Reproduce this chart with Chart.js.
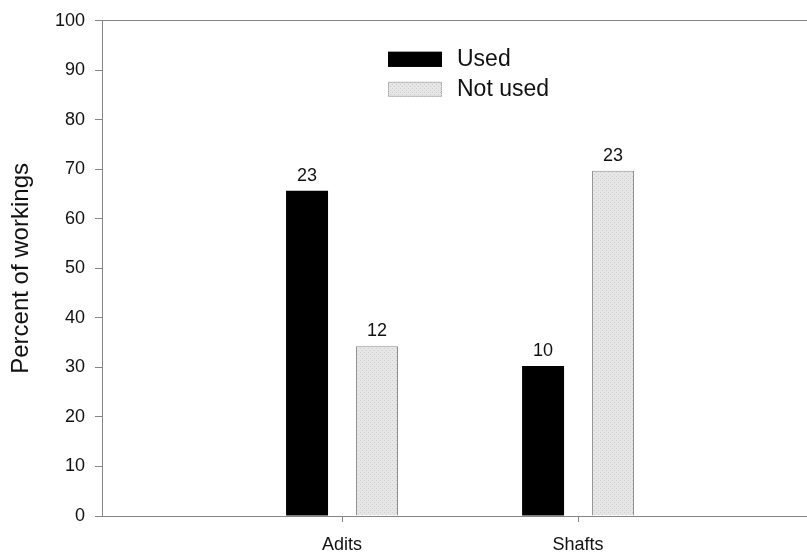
<!DOCTYPE html>
<html>
<head>
<meta charset="utf-8">
<script src="https://cdn.jsdelivr.net/npm/chart.js@4/dist/chart.umd.min.js"></script>
<style>
body{margin:0;background:#fff;}
</style>
</head>
<body>
<canvas id="chart" width="807" height="558"></canvas>
<script>
// values
const categories = ["Adits", "Shafts"];
const xPos = [1, 2];
const usedPct = [65.7, 30.3];
const notUsedPct = [34.3, 69.7];
const usedCount = [23, 10];
const notUsedCount = [12, 23];
const yTicks = [0, 10, 20, 30, 40, 50, 60, 70, 80, 90, 100];

const FONT = "'Liberation Sans', Arial, sans-serif";
const AXIS = "#858585";

// light stipple fill for the "Not used" bars
function stipple(){
  let c = document.createElement("canvas");
  c.width = 4; c.height = 4;
  let g = c.getContext("2d");
  g.fillStyle = "#e6e6e6";
  g.fillRect(0,0,4,4);
  g.fillStyle = "#cfcfcf";
  g.fillRect(0,0,1,1);
  g.fillRect(2,2,1,1);
  return g.createPattern(c, "repeat");
}
const notUsedFill = stipple();

const counts = [usedCount, notUsedCount];

const barLabels = {
  id: "barLabels",
  afterDatasetsDraw(chart){
    const ctx = chart.ctx;
    ctx.save();
    ctx.font = "18px " + FONT;
    ctx.fillStyle = "#111";
    ctx.textAlign = "center";
    ctx.textBaseline = "alphabetic";
    chart.data.datasets.forEach((ds, di) => {
      chart.getDatasetMeta(di).data.forEach((bar, i) => {
        ctx.fillText(String(counts[di][i]), bar.x, bar.y - 10);
      });
    });
    ctx.restore();
  }
};

const boxLegend = {
  id: "boxLegend",
  afterDraw(chart){
    const ctx = chart.ctx;
    const a = chart.chartArea;
    const x = a.left + 286;
    let y = a.top + 31;
    ctx.save();
    ctx.font = "23px " + FONT;
    ctx.textBaseline = "middle";
    chart.data.datasets.forEach((ds) => {
      ctx.fillStyle = ds.backgroundColor;
      ctx.fillRect(x, y, 54, 15);
      ctx.strokeStyle = ds.borderColor;
      ctx.lineWidth = 1;
      ctx.setLineDash(ds.label === "Not used" ? [1, 1] : []);
      ctx.strokeRect(x + 0.5, y + 0.5, 53, 14);
      ctx.setLineDash([]);
      ctx.fillStyle = "#111";
      ctx.fillText(ds.label, x + 69, y + 8);
      y += 30;
    });
    ctx.restore();
  }
};

new Chart(document.getElementById("chart"), {
  type: "bar",
  data: {
    datasets: [
      {
        label: "Used",
        data: xPos.map((x, i) => ({x: x, y: usedPct[i]})),
        backgroundColor: "#000",
        borderColor: "#000",
        borderWidth: 0
      },
      {
        label: "Not used",
        data: xPos.map((x, i) => ({x: x, y: notUsedPct[i]})),
        backgroundColor: notUsedFill,
        borderColor: "#8a8a8a",
        borderWidth: 1
      }
    ]
  },
  options: {
    responsive: false,
    animation: false,
    categoryPercentage: 0.593,
    barPercentage: 0.6,
    layout: {padding: {top: 16, right: 0, left: 0, bottom: 0}},
    plugins: {
      legend: {display: false},
      tooltip: {enabled: false}
    },
    scales: {
      x: {
        type: "linear",
        offset: false,
        min: -0.017,
        max: 2.97,
        afterFit(s){ s.height = 42; },
        afterBuildTicks(s){ s.ticks = xPos.map(v => ({value: v})); },
        ticks: {
          font: {size: 18, family: FONT},
          color: "#111",
          padding: 12,
          callback: (v, i) => categories[i]
        },
        grid: {offset: false, drawOnChartArea: false, tickLength: 6, tickColor: AXIS},
        border: {color: AXIS, width: 1}
      },
      y: {
        min: 0,
        max: 100,
        afterFit(s){ s.width = 102; },
        afterBuildTicks(s){ s.ticks = yTicks.map(v => ({value: v})); },
        ticks: {
          font: {size: 18, family: FONT},
          color: "#111",
          padding: 10
        },
        grid: {
          tickLength: 7,
          tickColor: AXIS,
          color: c => (c.tick && c.tick.value === 100) ? AXIS : "rgba(0,0,0,0)"
        },
        border: {color: AXIS, width: 1},
        title: {
          display: true,
          text: "Percent of workings",
          font: {size: 24, family: FONT},
          color: "#111",
          padding: {top: 7, bottom: 0}
        }
      }
    }
  },
  plugins: [barLabels, boxLegend]
});
</script>
</body>
</html>
